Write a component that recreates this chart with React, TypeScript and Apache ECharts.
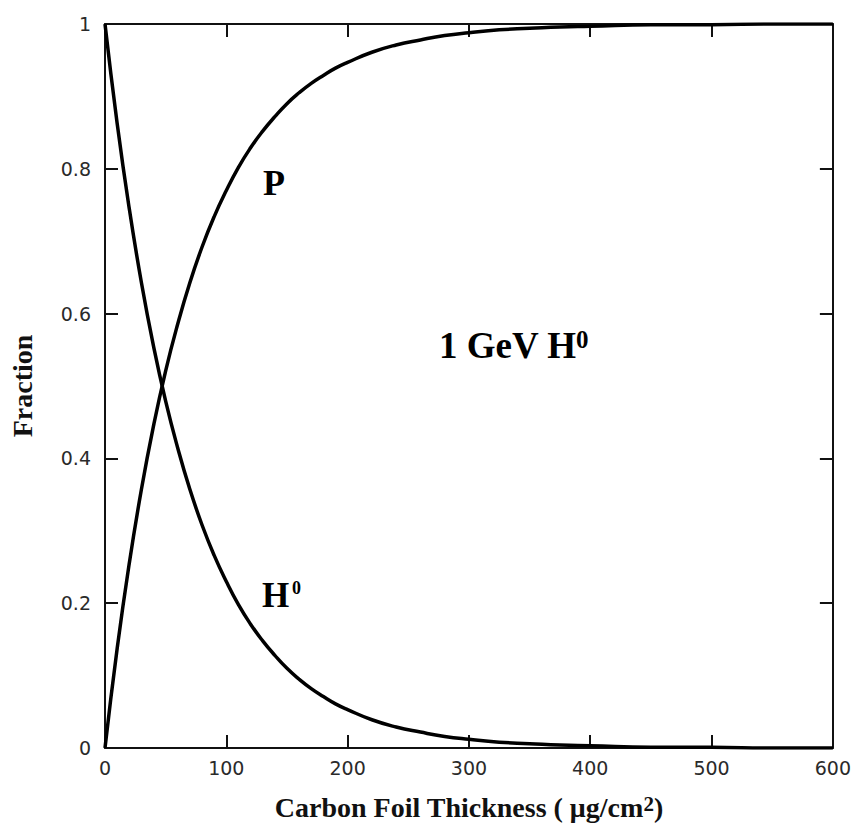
import React, { useEffect, useRef } from "react";
import * as echarts from "echarts";

const thickness = [0, 10, 20, 30, 40, 50, 60, 70, 80, 90, 100, 110, 120, 130, 140, 150, 160, 170, 180, 190, 200, 220, 240, 260, 280, 300, 325, 350, 375, 400, 450, 500, 550, 600];
const h0Fraction = [1, 0.863, 0.745, 0.643, 0.555, 0.479, 0.414, 0.357, 0.308, 0.266, 0.23, 0.198, 0.171, 0.148, 0.128, 0.11, 0.095, 0.082, 0.071, 0.061, 0.053, 0.039, 0.029, 0.022, 0.016, 0.012, 0.008, 0.006, 0.004, 0.003, 0.001, 0.001, 0, 0];
const pFraction = [0, 0.137, 0.255, 0.357, 0.445, 0.521, 0.586, 0.643, 0.692, 0.734, 0.77, 0.802, 0.829, 0.852, 0.872, 0.89, 0.905, 0.918, 0.929, 0.939, 0.947, 0.961, 0.971, 0.978, 0.984, 0.988, 0.992, 0.994, 0.996, 0.997, 0.999, 0.999, 1, 1];

const xTitle = "Carbon Foil Thickness ( μg/cm{s|2})";
const yTitle = "Fraction";

const SERIF = "'Liberation Serif', 'Times New Roman', serif";
const SANS = "'DejaVu Sans', sans-serif";

export default function App() {
  const ref = useRef<HTMLDivElement>(null);
  useEffect(() => {
    if (!ref.current) return;
    const chart = echarts.init(ref.current, null, { renderer: "svg" });
    const axisLine = { show: true, onZero: false, lineStyle: { color: "#111", width: 2 } };
    const tick = { show: true, inside: true, length: 13, lineStyle: { color: "#111", width: 2 } };
    const labelStyle = { fontFamily: SANS, fontSize: 19, color: "#2a2a2a" };
    chart.setOption({
      animation: false,
      backgroundColor: "#fff",
      grid: { left: 104, right: 21, top: 24, bottom: 72 },
      xAxis: [
        {
          type: "value", min: 0, max: 600, interval: 100, position: "bottom",
          axisLine, axisTick: tick, splitLine: { show: false },
          axisLabel: { ...labelStyle, margin: 10 },
          name: xTitle, nameLocation: "middle", nameGap: 45,
          nameTextStyle: {
            fontFamily: SERIF, fontWeight: "bold", fontSize: 28, color: "#111",
            rich: { s: { fontFamily: SERIF, fontWeight: "bold", fontSize: 21, color: "#111", verticalAlign: "top" } },
          },
        },
        {
          type: "value", min: 0, max: 600, interval: 100, position: "top",
          axisLine, axisTick: tick, splitLine: { show: false }, axisLabel: { show: false },
        },
      ],
      yAxis: [
        {
          type: "value", min: 0, max: 1, interval: 0.2, position: "left",
          axisLine, axisTick: tick, splitLine: { show: false },
          axisLabel: { ...labelStyle, margin: 14 },
          name: yTitle, nameLocation: "middle", nameGap: 69,
          nameTextStyle: { fontFamily: SERIF, fontWeight: "bold", fontSize: 28, color: "#111" },
        },
        {
          type: "value", min: 0, max: 1, interval: 0.2, position: "right",
          axisLine, axisTick: tick, splitLine: { show: false }, axisLabel: { show: false },
        },
      ],
      series: [
        {
          name: "H0", type: "line", xAxisIndex: 0, yAxisIndex: 0, showSymbol: false, smooth: true,
          lineStyle: { color: "#000", width: 3.5 },
          data: thickness.map((x, i) => [x, h0Fraction[i]]),
        },
        {
          name: "P", type: "line", xAxisIndex: 0, yAxisIndex: 0, showSymbol: false, smooth: true,
          lineStyle: { color: "#000", width: 3.5 },
          data: thickness.map((x, i) => [x, pFraction[i]]),
        },
      ],
      graphic: [
        { type: "text", x: 263, y: 183, style: { text: "P", font: `bold 36px ${SERIF}`, fill: "#000", textAlign: "left", textVerticalAlign: "middle", verticalAlign: "middle" } },
        { type: "text", x: 262, y: 595, style: { text: "H", font: `bold 35px ${SERIF}`, fill: "#000", textAlign: "left", textVerticalAlign: "middle", verticalAlign: "middle" } },
        { type: "text", x: 292, y: 588, style: { text: "0", font: `bold 18px ${SERIF}`, fill: "#000", textAlign: "left", textVerticalAlign: "middle", verticalAlign: "middle" } },
        { type: "text", x: 439, y: 345, style: { text: "1 GeV H", font: `bold 37px ${SERIF}`, fill: "#000", textAlign: "left", textVerticalAlign: "middle", verticalAlign: "middle" } },
        { type: "text", x: 576, y: 339, style: { text: "0", font: `bold 25px ${SERIF}`, fill: "#000", textAlign: "left", textVerticalAlign: "middle", verticalAlign: "middle" } },
      ],
    });
    return () => chart.dispose();
  }, []);
  return <div ref={ref} style={{ position: "fixed", left: 0, top: 0, width: 854, height: 826, background: "#fff" }} />;
}
